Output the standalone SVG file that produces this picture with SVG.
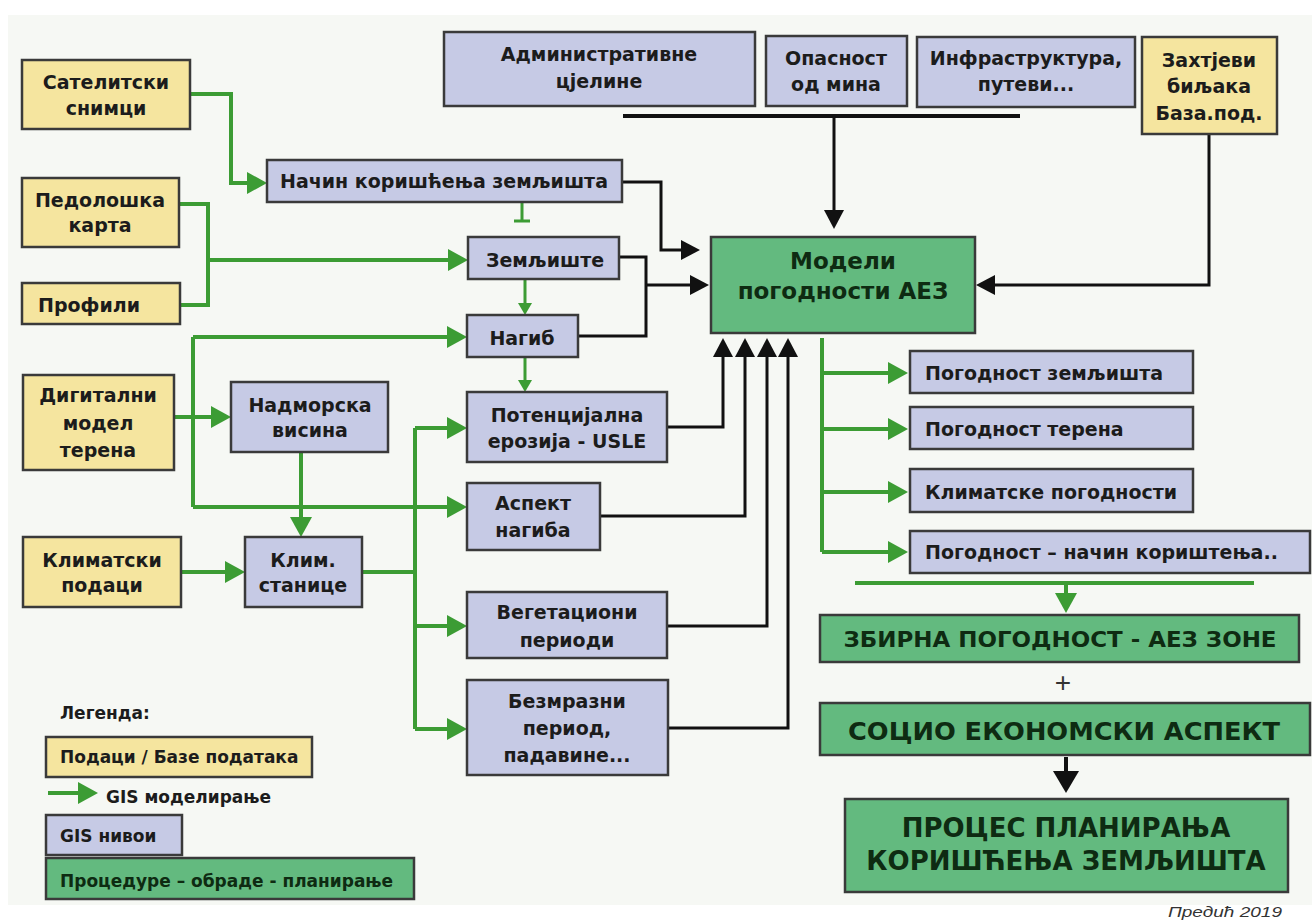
<svg xmlns="http://www.w3.org/2000/svg" width="1312" height="921" viewBox="0 0 1312 921">
<style>
.y{fill:#f5e59f;stroke:#3a3a3a;stroke-width:2.5}
.b{fill:#c6cae5;stroke:#3a3a3a;stroke-width:2.5}
.g{fill:#63ba7f;stroke:#3a3a3a;stroke-width:2.5}
.t{font-family:"DejaVu Sans","Liberation Sans",sans-serif;font-weight:bold;font-size:19px;fill:#1c1c1c;text-anchor:middle}
.l{text-anchor:start}
.tg{fill:#0e2b12}
.gl{stroke:#3c9c34;stroke-width:4;fill:none}
.gs{stroke:#3c9c34;stroke-width:3;fill:none}
.bl{stroke:#111;stroke-width:3;fill:none}
</style>
<defs>
<marker id="ag" markerUnits="userSpaceOnUse" markerWidth="20" markerHeight="22" viewBox="0 0 20 22" refX="12" refY="11" orient="auto"><path d="M0,0 L20,11 L0,22 z" fill="#3c9c34"/></marker>
<marker id="as" markerUnits="userSpaceOnUse" markerWidth="12" markerHeight="14" viewBox="0 0 12 14" refX="6" refY="7" orient="auto"><path d="M0,0 L12,7 L0,14 z" fill="#3c9c34"/></marker>
<marker id="ab" markerUnits="userSpaceOnUse" markerWidth="19" markerHeight="20" viewBox="0 0 19 20" refX="11" refY="10" orient="auto"><path d="M0,0 L19,10 L0,20 z" fill="#111"/></marker>
<marker id="abb" markerUnits="userSpaceOnUse" markerWidth="22" markerHeight="26" viewBox="0 0 22 26" refX="12" refY="13" orient="auto"><path d="M0,0 L22,13 L0,26 z" fill="#111"/></marker>
</defs>
<rect x="0" y="0" width="1312" height="921" fill="#ffffff"/>
<rect x="8" y="15" width="1304" height="890" fill="#f6f8f4"/>

<g id="connectors">
<path class="gl" d="M190,94 H231 V183 H259" marker-end="url(#ag)"/>
<path class="gl" d="M179,204 H208 V305 H180"/>
<path class="gl" d="M208,260 H460" marker-end="url(#ag)"/>
<path class="gs" d="M522,202 V220 M514,221 H530"/>
<path class="gs" d="M525,279 V309" marker-end="url(#as)"/>
<path class="gs" d="M525,357 V386" marker-end="url(#as)"/>
<path class="gl" d="M193,337 V507"/>
<path class="gl" d="M193,337 H459" marker-end="url(#ag)"/>
<path class="gl" d="M193,507 H459" marker-end="url(#ag)"/>
<path class="gl" d="M174,417 H223" marker-end="url(#ag)"/>
<path class="gl" d="M301,452 V529" marker-end="url(#ag)"/>
<path class="gl" d="M181,572 H237" marker-end="url(#ag)"/>
<path class="gl" d="M362,572 H415 M415,428 V729"/>
<path class="gl" d="M415,428 H459" marker-end="url(#ag)"/>
<path class="gl" d="M415,626 H459" marker-end="url(#ag)"/>
<path class="gl" d="M415,729 H459" marker-end="url(#ag)"/>
<path class="gl" d="M822,338 V552"/>
<path class="gl" d="M822,373 H900" marker-end="url(#ag)"/>
<path class="gl" d="M822,429 H900" marker-end="url(#ag)"/>
<path class="gl" d="M822,492 H900" marker-end="url(#ag)"/>
<path class="gl" d="M822,552 H900" marker-end="url(#ag)"/>
<path class="gl" d="M855,583 H1254"/>
<path class="gl" d="M1066,583 V605" marker-end="url(#ag)"/>
<path class="gl" d="M48,793 H90" marker-end="url(#ag)"/>

<path class="bl" d="M623,116 H1020" style="stroke-width:4"/>
<path class="bl" d="M834,116 V221" marker-end="url(#ab)"/>
<path class="bl" d="M622,182 H661 V250 H692" marker-end="url(#ab)"/>
<path class="bl" d="M619,257 H646 V336 H578"/>
<path class="bl" d="M646,285 H701" marker-end="url(#ab)"/>
<path class="bl" d="M1209,134 V285 H984" marker-end="url(#ab)"/>
<path class="bl" d="M667,427 H723 V346" marker-end="url(#ab)"/>
<path class="bl" d="M600,516 H745 V346" marker-end="url(#ab)"/>
<path class="bl" d="M667,626 H767 V346" marker-end="url(#ab)"/>
<path class="bl" d="M668,728 H788 V346" marker-end="url(#ab)"/>
<path class="bl" d="M1066,757 V783" style="stroke-width:4" marker-end="url(#abb)"/>
</g>

<g id="satelitski"><rect class="y" x="22" y="60" width="168" height="69"/><text class="t" x="106" y="89">Сателитски</text><text class="t" x="106" y="115">снимци</text></g>
<g id="pedoloska"><rect class="y" x="22" y="178" width="157" height="69"/><text class="t" x="100" y="207">Педолошка</text><text class="t" x="100" y="232">карта</text></g>
<g id="profili"><rect class="y" x="22" y="283" width="158" height="41"/><text class="t l" x="38" y="312">Профили</text></g>
<g id="digitalni"><rect class="y" x="23" y="375" width="151" height="95"/><text class="t" x="98" y="402">Дигитални</text><text class="t" x="98" y="430">модел</text><text class="t" x="98" y="457">терена</text></g>
<g id="klimatski"><rect class="y" x="23" y="537" width="158" height="70"/><text class="t" x="102" y="567">Климатски</text><text class="t" x="102" y="592">подаци</text></g>
<g id="nacin"><rect class="b" x="267" y="160" width="355" height="42"/><text class="t" x="444" y="188">Начин коришћења земљишта</text></g>
<g id="zemljiste"><rect class="b" x="468" y="237" width="151" height="42"/><text class="t" x="545" y="267">Земљиште</text></g>
<g id="nagib"><rect class="b" x="467" y="315" width="111" height="42"/><text class="t" x="522" y="345">Нагиб</text></g>
<g id="nadmorska"><rect class="b" x="231" y="382" width="157" height="70"/><text class="t" x="310" y="412">Надморска</text><text class="t" x="310" y="437">висина</text></g>
<g id="klim"><rect class="b" x="245" y="537" width="117" height="70"/><text class="t" x="303" y="567">Клим.</text><text class="t" x="303" y="592">станице</text></g>
<g id="potencijalna"><rect class="b" x="467" y="392" width="200" height="70"/><text class="t" x="567" y="422">Потенцијална</text><text class="t" x="567" y="448">ерозија - USLE</text></g>
<g id="aspekt"><rect class="b" x="467" y="483" width="133" height="67"/><text class="t" x="533" y="510">Аспект</text><text class="t" x="533" y="537">нагиба</text></g>
<g id="vegetacioni"><rect class="b" x="467" y="592" width="200" height="66"/><text class="t" x="567" y="619">Вегетациони</text><text class="t" x="567" y="647">периоди</text></g>
<g id="bezmrazni"><rect class="b" x="467" y="680" width="201" height="95"/><text class="t" x="567" y="708">Безмразни</text><text class="t" x="567" y="735">период,</text><text class="t" x="567" y="762">падавине...</text></g>
<g id="administrativne"><rect class="b" x="444" y="32" width="311" height="74"/><text class="t" x="599" y="61">Административне</text><text class="t" x="599" y="88">цјелине</text></g>
<g id="opasnost"><rect class="b" x="766" y="36" width="141" height="70"/><text class="t" x="836" y="65">Опасност</text><text class="t" x="836" y="91">од мина</text></g>
<g id="infrastruktura"><rect class="b" x="917" y="37" width="218" height="70"/><text class="t" x="1026" y="65">Инфраструктура,</text><text class="t" x="1026" y="91">путеви...</text></g>
<g id="zahtjevi"><rect class="y" x="1142" y="37" width="135" height="97"/><text class="t" x="1209" y="67">Захтјеви</text><text class="t" x="1209" y="93">биљака</text><text class="t" x="1209" y="120">База.под.</text></g>
<g id="modeli"><rect class="g" x="711" y="237" width="264" height="96"/><text class="t tg" x="843" y="269" style="font-size:23px">Модели</text><text class="t tg" x="843" y="299" style="font-size:23px">погодности АЕЗ</text></g>
<g id="pog-zemljista"><rect class="b" x="910" y="351" width="283" height="42"/><text class="t l" x="925" y="380">Погодност земљишта</text></g>
<g id="pog-terena"><rect class="b" x="910" y="407" width="283" height="42"/><text class="t l" x="925" y="436">Погодност терена</text></g>
<g id="klim-pog"><rect class="b" x="910" y="469" width="283" height="43"/><text class="t l" x="925" y="499">Климатске погодности</text></g>
<g id="pog-nacin"><rect class="b" x="910" y="531" width="400" height="42"/><text class="t l" x="925" y="559">Погодност – начин кориштења..</text></g>
<g id="zbirna"><rect class="g" x="820" y="615" width="479" height="47"/><text class="t tg" x="1060" y="647" style="font-size:22px" textLength="433" lengthAdjust="spacingAndGlyphs">ЗБИРНА ПОГОДНОСТ - АЕЗ ЗОНЕ</text></g>
<text class="t" x="1063" y="692" style="font-family:'Liberation Sans',sans-serif;font-weight:normal;font-size:28px;fill:#333">+</text>
<g id="socio"><rect class="g" x="820" y="703" width="490" height="52"/><text class="t tg" x="1064" y="740" style="font-size:24px" textLength="432" lengthAdjust="spacingAndGlyphs">СОЦИО ЕКОНОМСКИ АСПЕКТ</text></g>
<g id="proces"><rect class="g" x="845" y="799" width="443" height="93"/><text class="t tg" x="1066" y="837" style="font-size:26px">ПРОЦЕС ПЛАНИРАЊА</text><text class="t tg" x="1066" y="870" style="font-size:26px">КОРИШЋЕЊА ЗЕМЉИШТА</text></g>

<g id="legend">
<text class="t l" x="60" y="719" style="font-size:17px">Легенда:</text>
<rect class="y" x="46" y="737" width="266" height="40"/><text class="t l" x="60" y="763" style="font-size:17px">Подаци / Базе података</text>
<text class="t l" x="106" y="803" style="font-size:17px">GIS моделирање</text>
<rect class="b" x="46" y="815" width="136" height="40"/><text class="t l" x="60" y="842" style="font-size:17px">GIS нивои</text>
<rect class="g" x="46" y="858" width="368" height="41"/><text class="t l tg" x="60" y="887" style="font-size:17px">Процедуре – обраде - планирање</text>
</g>
<text x="1168" y="917" style="font-family:'Liberation Sans',sans-serif;font-style:italic;font-size:15px;fill:#333" textLength="114" lengthAdjust="spacingAndGlyphs">Предић 2019</text>
</svg>
